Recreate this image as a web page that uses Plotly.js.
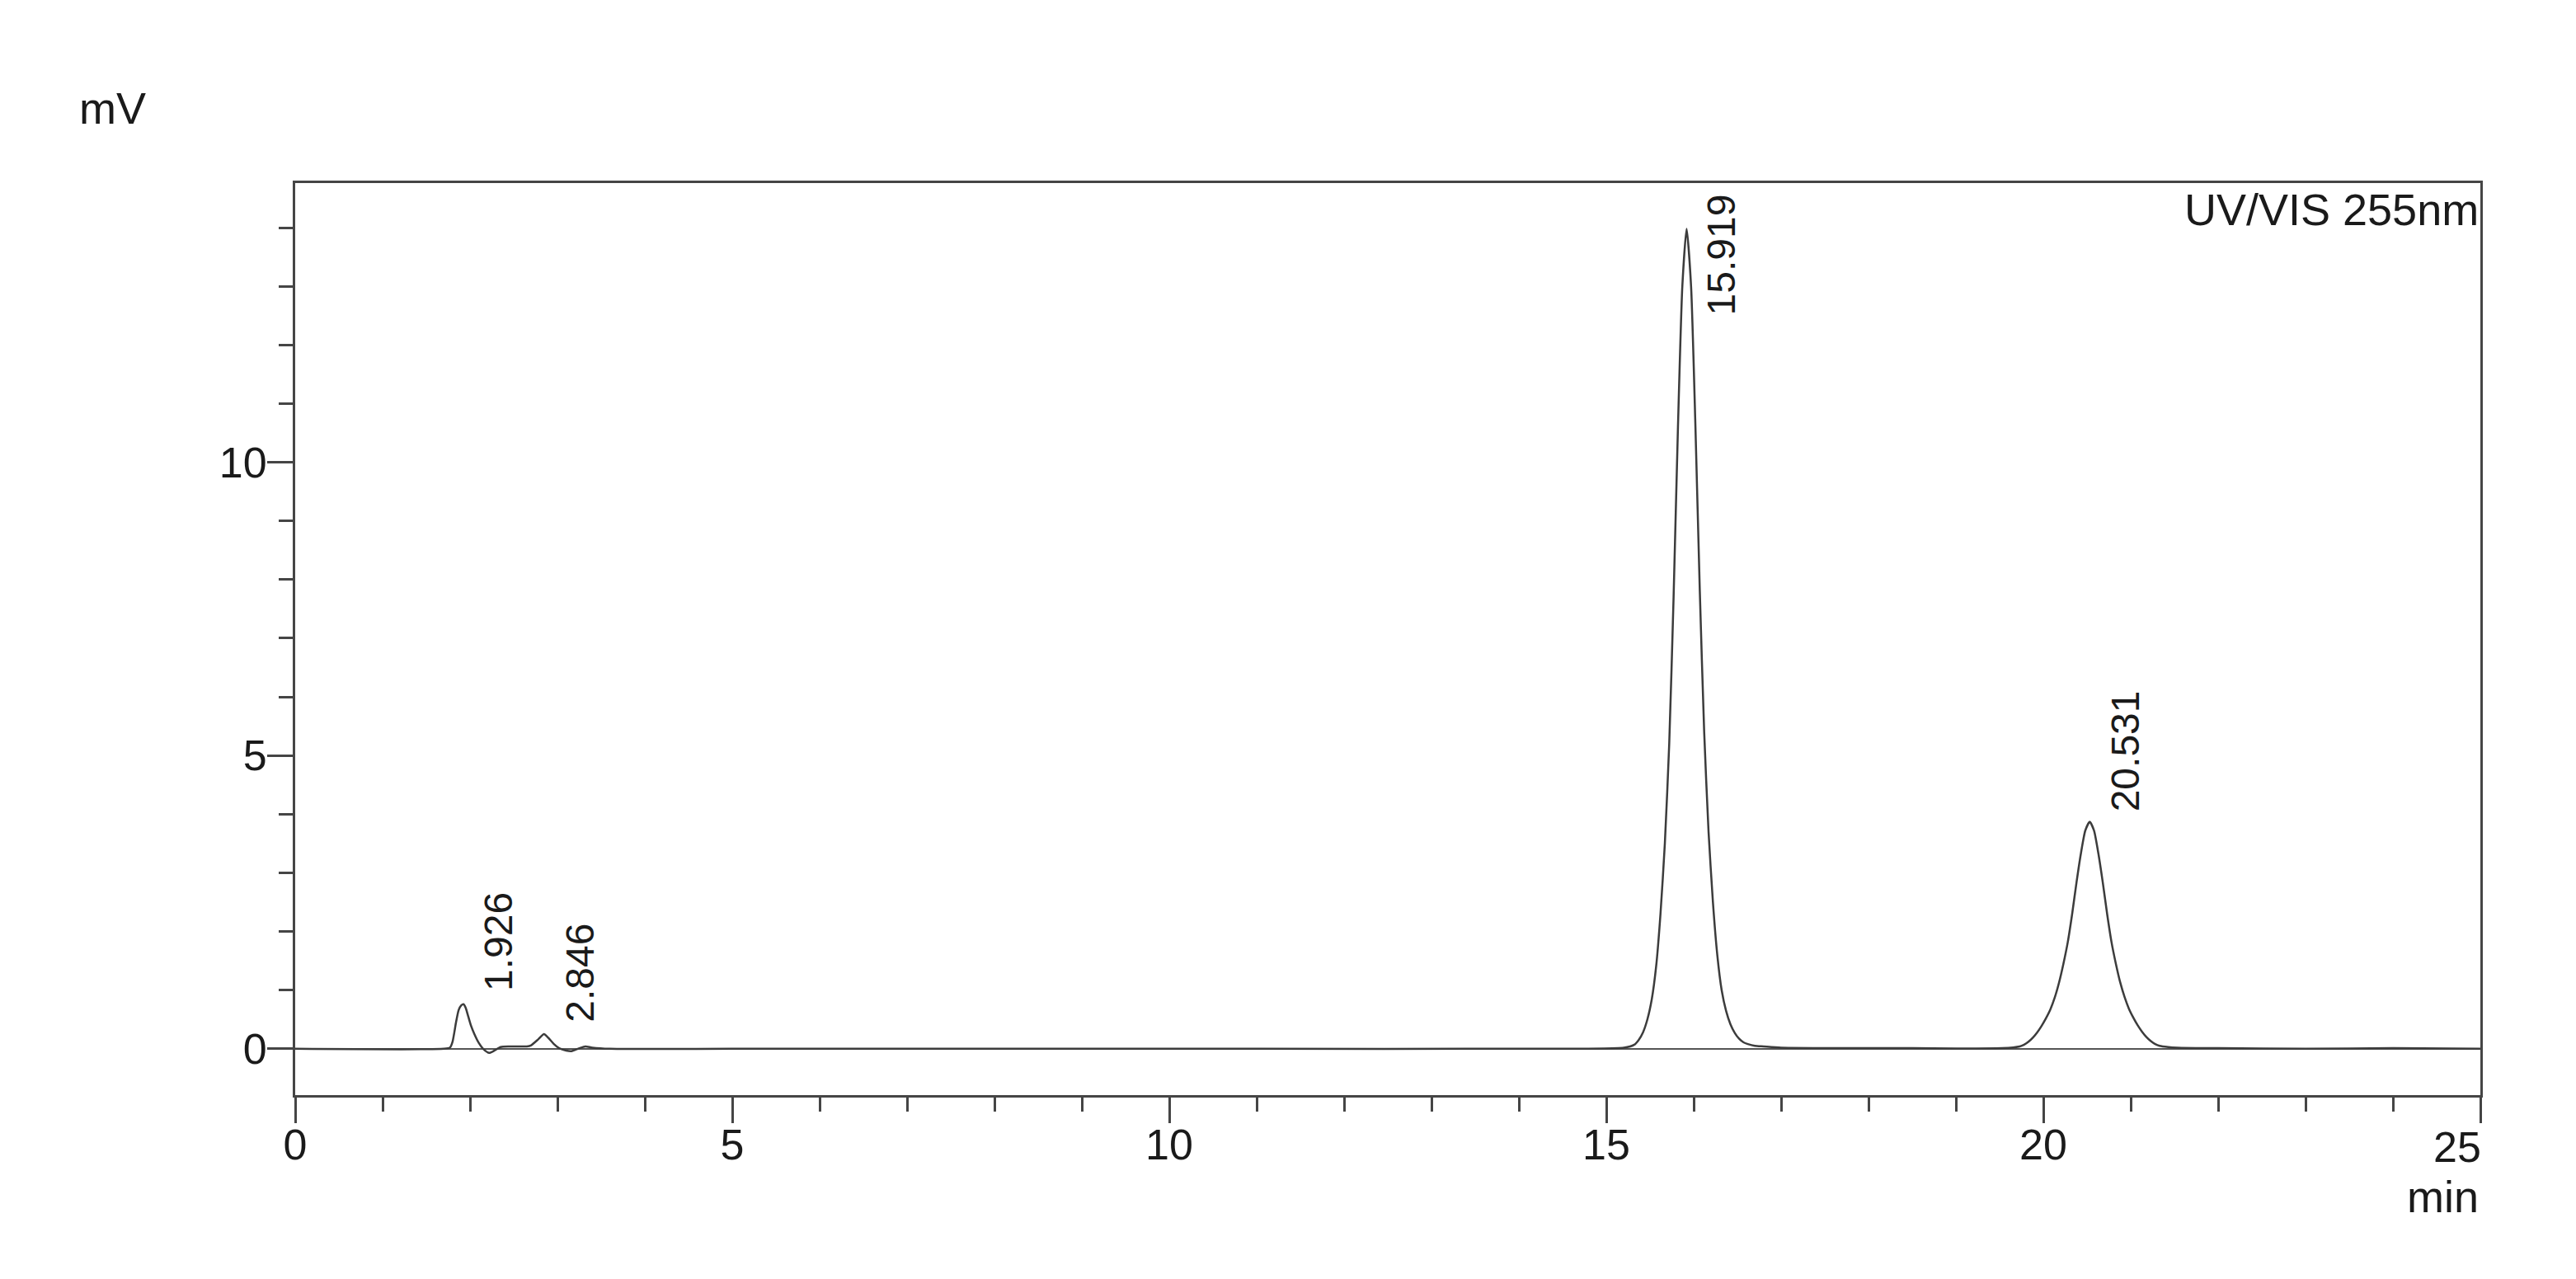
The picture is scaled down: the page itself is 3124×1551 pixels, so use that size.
<!DOCTYPE html>
<html>
<head>
<meta charset="utf-8">
<script src="https://cdn.plot.ly/plotly-3.0.1.min.js"></script>
<style>
    body { margin: 0; background: #fff; }
    #plot { width: 3124px; height: 1551px; }
</style>
</head>
<body>
<div id="plot"></div>
<script>
// retention time (min) and detector signal (mV)
const retentionTime = [
    0, 1.70, 1.77, 1.80, 1.84, 1.87, 1.90, 1.926, 1.95, 1.98, 2.01, 2.05, 2.10, 2.15, 2.22, 2.28,
    2.35, 2.45, 2.65, 2.70, 2.78, 2.846, 2.90, 2.96, 3.02, 3.10, 3.16, 3.25, 3.32, 3.40, 3.60,
    5, 8, 11, 14,
    15.20, 15.32, 15.37, 15.42, 15.47, 15.52, 15.57, 15.62, 15.67, 15.72, 15.77, 15.82, 15.87, 15.919,
    15.97, 16.02, 16.07, 16.12, 16.17, 16.22, 16.27, 16.32, 16.37, 16.42, 16.47, 16.52, 16.57, 16.62, 16.70, 16.80, 17.00,
    18.5, 19.53, 19.73, 19.78, 19.83, 19.88, 19.93, 19.98, 20.03, 20.08, 20.13, 20.18, 20.23, 20.28, 20.33, 20.38, 20.43, 20.48, 20.531,
    20.58, 20.63, 20.68, 20.73, 20.78, 20.83, 20.88, 20.93, 20.98, 21.03, 21.08, 21.13, 21.18, 21.23, 21.28, 21.33, 21.43, 21.53,
    22.0, 23.0, 24.0, 25.0
];
const signal = [
    0, 0, 0.02, 0.12, 0.45, 0.66, 0.74, 0.76, 0.70, 0.55, 0.40, 0.25, 0.10, 0.0, -0.07, -0.03,
    0.03, 0.04, 0.04, 0.06, 0.16, 0.25, 0.18, 0.08, 0.01, -0.03, -0.04, 0.01, 0.04, 0.02, 0.0,
    0.0, 0.0, 0.0, 0.0,
    0.02, 0.07, 0.15, 0.28, 0.50, 0.84, 1.4, 2.3, 3.5, 5.2, 7.7, 10.6, 13.0, 13.98,
    13.0, 10.6, 7.8, 5.4, 3.7, 2.5, 1.6, 1.0, 0.65, 0.42, 0.27, 0.17, 0.11, 0.08, 0.05, 0.04, 0.02,
    0.01, 0.01, 0.04, 0.07, 0.12, 0.19, 0.28, 0.39, 0.52, 0.67, 0.87, 1.13, 1.45, 1.82, 2.30, 2.84, 3.33, 3.72, 3.87,
    3.72, 3.33, 2.84, 2.30, 1.82, 1.45, 1.13, 0.88, 0.68, 0.53, 0.40, 0.29, 0.20, 0.13, 0.08, 0.05, 0.03, 0.02,
    0.01, 0.0, 0.01, 0.0
];

// labelled peaks
const peakTimes = [1.926, 2.846, 15.919, 20.531];
const peakHeights = [0.76, 0.25, 13.98, 3.87];

// axis labels
const xTickVals = [0, 5, 10, 15, 20];
const yTickVals = [0, 5, 10];

const axisColor = '#454545';
const textColor = '#1a1a1a';
const fontFamily = 'Arial, "Liberation Sans", sans-serif';

function drawChromatogram() {
    const trace = {
        type: 'scatter',
        mode: 'lines',
        x: retentionTime,
        y: signal,
        line: { color: '#3c3c3c', width: 2.5, shape: 'spline', smoothing: 0.6 },
        hoverinfo: 'skip'
    };

    // label offsets in px from each apex (the big one is pushed down to fit under the frame)
    const labelYShift = [14, 12, -107, 10];
    const peakLabels = peakTimes.map((t, i) => ({
        x: t,
        y: peakHeights[i],
        xref: 'x',
        yref: 'y',
        text: t.toFixed(3),
        textangle: -90,
        showarrow: false,
        xanchor: 'center',
        yanchor: 'bottom',
        xshift: 43,
        yshift: labelYShift[i],
        font: { size: 48, color: textColor, family: fontFamily }
    }));

    const layout = {
        width: 3124,
        height: 1551,
        margin: { l: 358, r: 116, t: 222, b: 223 },
        paper_bgcolor: '#ffffff',
        plot_bgcolor: '#ffffff',
        showlegend: false,
        font: { family: fontFamily, color: textColor, size: 52 },
        xaxis: {
            range: [0, 25],
            tickmode: 'array',
            tickvals: xTickVals.concat([25]),
            ticktext: xTickVals.map(String).concat(['']),
            ticks: 'outside',
            ticklen: 31,
            tickwidth: 3,
            tickcolor: axisColor,
            ticklabelstandoff: -18,
            showline: true,
            linecolor: axisColor,
            linewidth: 3,
            mirror: true,
            showgrid: false,
            zeroline: false,
            tickfont: { size: 52, color: textColor },
            minor: { tick0: 0, dtick: 1, ticks: 'outside', ticklen: 17, tickwidth: 3, tickcolor: axisColor, showgrid: false }
        },
        yaxis: {
            range: [-0.79, 14.76],
            tickmode: 'array',
            tickvals: yTickVals,
            ticktext: yTickVals.map(String),
            ticks: 'outside',
            ticklen: 31,
            tickwidth: 3,
            tickcolor: axisColor,
            ticklabelstandoff: -10,
            showline: true,
            linecolor: axisColor,
            linewidth: 3,
            mirror: true,
            showgrid: false,
            zeroline: true,
            zerolinecolor: '#555555',
            zerolinewidth: 2,
            tickfont: { size: 52, color: textColor },
            minor: { tick0: 0, dtick: 1, ticks: 'outside', ticklen: 17, tickwidth: 3, tickcolor: axisColor, showgrid: false }
        },
        annotations: peakLabels.concat([
            {
                // last x label sits flush with the end of the axis
                text: '25', xref: 'x', yref: 'paper', x: 25, y: 0,
                xanchor: 'right', yanchor: 'top', xshift: 3, yshift: -32, showarrow: false,
                font: { size: 52, color: textColor, family: fontFamily }
            },
            {
                text: 'mV', xref: 'paper', yref: 'paper', x: -0.0834, y: 1.0823,
                xanchor: 'center', yanchor: 'middle', showarrow: false,
                font: { size: 54, color: textColor, family: fontFamily }
            },
            {
                text: 'min', xref: 'paper', yref: 'paper', x: 1, y: -0.111,
                xanchor: 'right', yanchor: 'middle', showarrow: false,
                font: { size: 54, color: textColor, family: fontFamily }
            },
            {
                text: 'UV/VIS 255nm', xref: 'paper', yref: 'paper', x: 1, y: 1,
                xanchor: 'right', yanchor: 'top', showarrow: false,
                font: { size: 54, color: textColor, family: fontFamily }
            }
        ])
    };

    Plotly.newPlot('plot', [trace], layout, { displayModeBar: false, staticPlot: true });
}

document.addEventListener('DOMContentLoaded', drawChromatogram);
</script>
</body>
</html>
